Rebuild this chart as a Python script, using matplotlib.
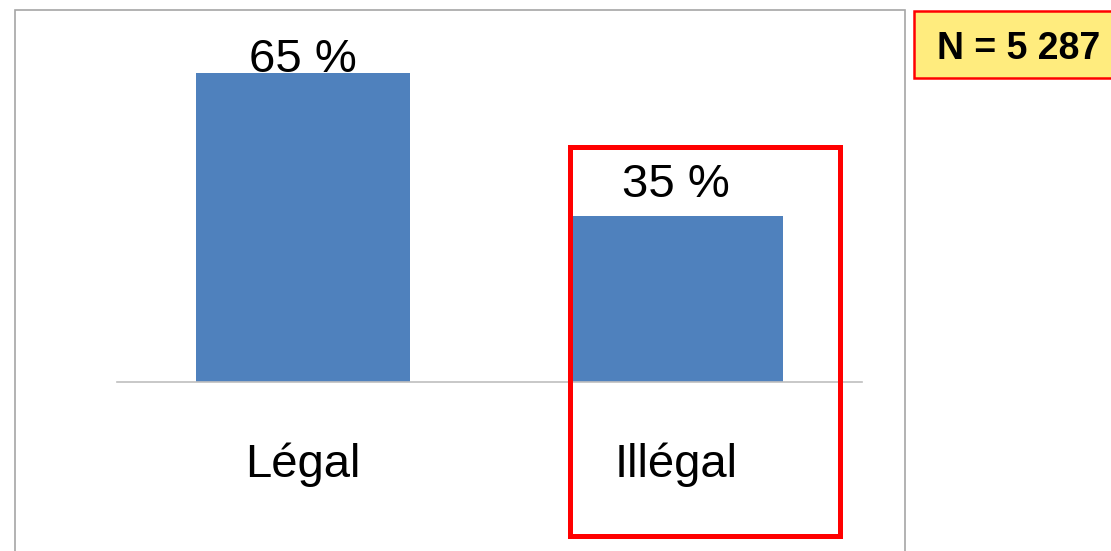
import matplotlib.pyplot as plt
from matplotlib.patches import Rectangle

plt.rcParams['font.family'] = ['Liberation Sans', 'DejaVu Sans']

categories = ['Légal', 'Illégal']
values = [65, 35]
value_labels = ['65 %', '35 %']
n_text = 'N = 5 287'

bar_color = '#4F81BD'
label_offsets = [0.7, 13.4]  # points above each bar top

fig = plt.figure(figsize=(11.11, 5.51), dpi=100)
ax = fig.add_axes([117 / 1111, 169 / 551, 745 / 1111, 332.8 / 551])

x = range(len(categories))
ax.bar(x, values, width=0.574, color=bar_color, zorder=2)
ax.set_xlim(-0.5, 1.5)
ax.set_ylim(0, 70)

for i, (v, lab) in enumerate(zip(values, value_labels)):
    ax.annotate(lab, xy=(i, v), xytext=(0, label_offsets[i]),
                textcoords='offset points', ha='center', va='baseline',
                fontsize=34, color='black')

ax.set_xticks(list(x))
ax.set_xticklabels(categories, fontsize=34)
for lbl in ax.get_xticklabels():
    lbl.set_va('baseline')
ax.tick_params(axis='x', length=0, pad=68.4)
ax.set_yticks([])
for s in ['top', 'right', 'left']:
    ax.spines[s].set_visible(False)
ax.spines['bottom'].set_color('#bfbfbf')
ax.spines['bottom'].set_linewidth(1.2)

# outer chart frame
fig.patches.append(Rectangle((15 / 1111, -0.05), 890 / 1111, 541 / 551 + 0.05,
                             transform=fig.transFigure, fill=False,
                             edgecolor='#a6a6a6', linewidth=1.2))

# red highlight box
fig.patches.append(Rectangle((570 / 1111, 15 / 551), 269.5 / 1111, 389.5 / 551,
                             transform=fig.transFigure, fill=False,
                             edgecolor='#ff0000', linewidth=3.6, zorder=5))

# N box
fig.patches.append(Rectangle((914 / 1111, 473 / 551), 220 / 1111, 67 / 551,
                             transform=fig.transFigure, facecolor='#FFEC7E',
                             edgecolor='#ff0000', linewidth=1.8))
fig.text(1019 / 1111, 492 / 551, n_text, ha='center', va='baseline',
         fontsize=27, fontweight='bold', color='black')

fig.savefig('out.png', dpi=100)
